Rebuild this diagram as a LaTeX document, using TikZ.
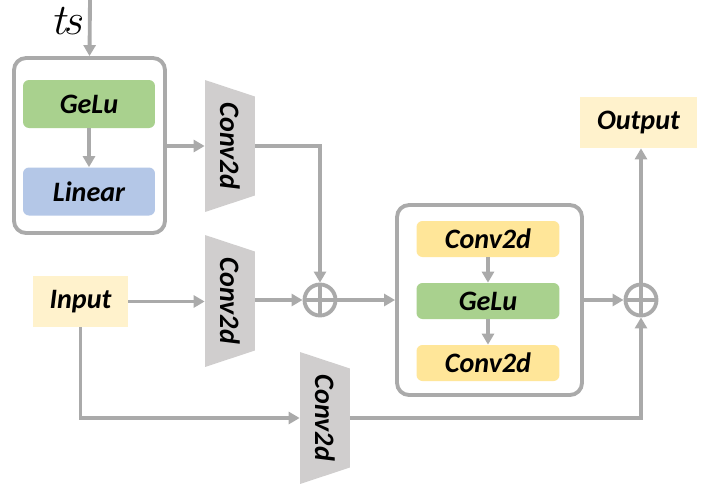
\documentclass[tikz,border=0pt]{standalone}
\usepackage{fontspec}
\setmainfont{Carlito}
\usepackage{graphicx}
\usepackage{tikz}
\usetikzlibrary{arrows.meta}

\definecolor{linegray}{HTML}{AAAAAA}
\definecolor{convgray}{HTML}{D0CECE}
\definecolor{gelugreen}{HTML}{A9D18E}
\definecolor{linblue}{HTML}{B4C7E7}
\definecolor{convyellow}{HTML}{FFE699}
\definecolor{ioyellow}{HTML}{FFF2CC}

\tikzset{
  lbl/.style={font=\bfseries\itshape\fontsize{16}{19}\selectfont, inner sep=0pt},
  frame/.style={draw=linegray, line width=2.2pt, rounded corners=0.24cm, fill=white},
  inbox/.style={lbl, rounded corners=0.12cm, minimum width=2.64cm, minimum height=0.96cm},
  smallbox/.style={lbl, rounded corners=0.12cm, minimum width=2.86cm, minimum height=0.72cm, fill=convyellow},
  iobox/.style={lbl, fill=ioyellow},
  convbox/.style={lbl, minimum width=1cm, minimum height=2.64cm,
    path picture={\fill[convgray] (path picture bounding box.north west)
      -- ([yshift=-0.33cm]path picture bounding box.north east)
      -- ([yshift=0.33cm]path picture bounding box.south east)
      -- (path picture bounding box.south west) -- cycle;}},
  addnode/.style={circle, draw=linegray, line width=2.2pt, minimum size=0.62cm, inner sep=0pt,
    path picture={\draw[linegray, line width=2.2pt]
      (path picture bounding box.north) -- (path picture bounding box.south)
      (path picture bounding box.west) -- (path picture bounding box.east);}},
  flow/.style={draw=linegray, line width=2.2pt, -{Triangle[length=0.22cm,width=0.24cm]}}
}

\begin{document}
\begin{tikzpicture}[x=0.02cm, y=-0.02cm]
        \useasboundingbox (0,0) rectangle (710,491);

        % time step branch
        \node [inner sep=0pt] (ts) at (69,21) {\fontsize{23}{26}\selectfont $t\mkern-2mu s$};
        \coordinate (tsin) at (90,0);
        \node [frame, minimum width=3.02cm, minimum height=3.5cm] (tbox) at (89.5,145.5) {};
        \node [inbox, fill=gelugreen] (gelua) at (89,104) {GeLu};
        \node [inbox, fill=linblue]   (linear) at (89,191.5) {Linear};
        \node [convbox] (conva) at (230,146) {\rotatebox{-90}{Conv2d}};

        % main branch
        \node [iobox, minimum width=1.9cm, minimum height=1.02cm] (input) at (80.5,301.5) {Input};
        \node [convbox] (convb) at (230,301) {\rotatebox{-90}{Conv2d}};
        \node [convbox] (convc) at (325,418) {\rotatebox{-90}{Conv2d}};
        \node [addnode] (adda) at (320,300) {};

        \node [frame, minimum width=3.7cm, minimum height=3.8cm] (rbox) at (489.5,300) {};
        \node [smallbox] (convd) at (488,239) {Conv2d};
        \node [smallbox, fill=gelugreen] (gelub) at (488,301) {GeLu};
        \node [smallbox] (conve) at (488,363) {Conv2d};

        \node [addnode] (addb) at (641,300) {};
        \node [iobox, minimum width=2.34cm, minimum height=1.02cm] (output) at (638.5,122.5) {Output};

        \draw [flow] (tsin) -- (tbox.north);
        \draw [flow] (gelua) -- (linear);
        \draw [flow] (tbox.east |- conva.west) -- (conva.west);
        \draw [flow] (conva.east) -| (adda.north);
        \draw [flow] (input.east) -- (convb.west |- input.east);
        \draw [flow] (convb.east |- adda.west) -- (adda.west);
        \draw [flow] (adda.east) -- (rbox.west |- adda.east);
        \draw [flow] (convd) -- (gelub);
        \draw [flow] (gelub) -- (conve);
        \draw [flow] (rbox.east |- addb.west) -- (addb.west);
        \draw [flow] (addb.north) -- (output.south -| addb.north);
        \draw [flow] (input.south) |- (convc.west);
        \draw [flow] (convc.east) -| (addb.south);
\end{tikzpicture}
\end{document}
